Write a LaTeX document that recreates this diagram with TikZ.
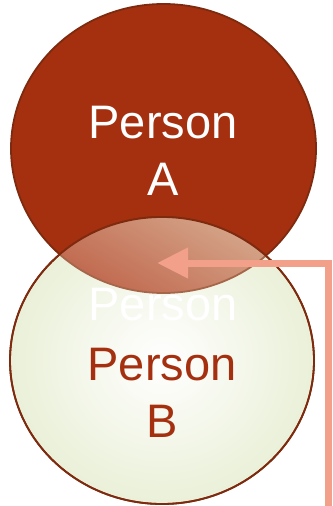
\documentclass[tikz,border=0pt]{standalone}
\usepackage{fontspec}
\setmainfont{Liberation Sans}
\usetikzlibrary{shapes.geometric,arrows.meta}
\definecolor{rust}{HTML}{A53010}
\definecolor{rustdark}{HTML}{7E2A0E}
\definecolor{paleg}{HTML}{EAF0D8}
\definecolor{tan}{HTML}{D8B094}
\definecolor{redtan}{HTML}{BE6248}
\definecolor{salmon}{HTML}{F2A08A}
\tikzset{
  blob/.style={ellipse, draw=rustdark, line width=1.8pt, inner sep=0pt},
  lbl/.style={font=\fontsize{47}{57}\selectfont, align=center, inner sep=0pt},
  pointer/.style={draw=salmon, line width=7pt, -{Triangle[length=31pt,width=29pt]}}
}
\begin{document}
\begin{tikzpicture}[x=1pt,y=-1pt]
\useasboundingbox (0,0) rectangle (332,506);
% circles
\node[blob, fill=rust, minimum width=305pt, minimum height=289pt] (A) at (163.5,148.5) {};
\node[blob, inner color=white, outer color=paleg, minimum width=304pt, minimum height=287pt] (B) at (162,360.5) {};
% intersection
\begin{scope}
  \clip (162,360.5) ellipse [x radius=152pt, y radius=143.5pt];
  \clip (163.5,148.5) ellipse [x radius=152.5pt, y radius=144.5pt];
  \shade[top color=tan, bottom color=redtan, shading angle=-30] (40,200) rectangle (290,300);
\end{scope}
\begin{scope}
  \clip (162,360.5) ellipse [x radius=152pt, y radius=143.5pt];
  \draw[draw=rustdark!55!tan, line width=1.8pt] (163.5,148.5) ellipse [x radius=152.5pt, y radius=144.5pt];
\end{scope}
\draw[draw=rustdark, line width=1.8pt] (162,360.5) ellipse [x radius=152pt, y radius=143.5pt];
% labels
\node[lbl, text=white, anchor=base] (la) at (163,195) {Person\\A};
\node[lbl, text=white, anchor=base] (lab) at (163,320) {Person};
\node[lbl, text=rust, anchor=base] (lb) at (162,437) {Person\\B};
% pointer
\coordinate (src) at (328.5,506);
\coordinate (tip) at (157,263);
\draw[pointer] (src) |- (tip);
\end{tikzpicture}
\end{document}
